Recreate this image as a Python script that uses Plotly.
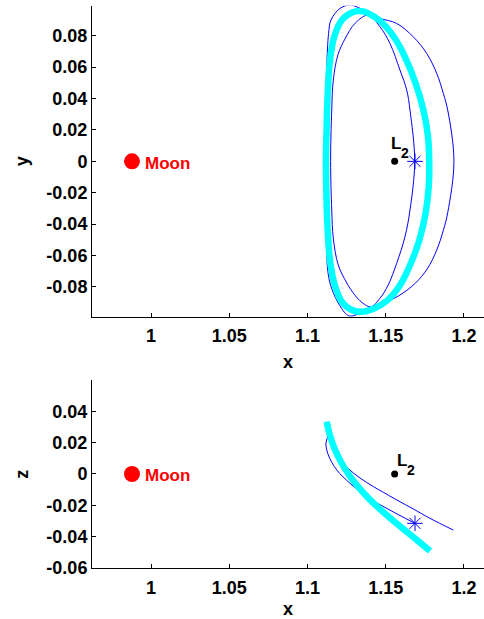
import plotly.graph_objects as go

# ---- fixed bodies / points ----
moon_x = [0.98785]
moon_y = [0.0]
moon_z = [0.0]
l2_x = [1.1557]
l2_y = [0.0]
l2_z = [0.0]
start_x = [1.1687]
start_y = [0.0]
start_z = [-0.0316]

# ---- converged halo orbit (cyan), x-y projection ----
halo_xy_x = [1.1118, 1.1122, 1.1128, 1.1142, 1.1170, 1.1220, 1.1285, 1.1355, 1.1420,
             1.1490, 1.1560, 1.1630, 1.1690, 1.1740, 1.1770, 1.1778,
             1.1775, 1.1755, 1.1715, 1.1660, 1.1590, 1.1510, 1.1430, 1.1345, 1.1280,
             1.1220, 1.1175, 1.1145, 1.1127, 1.1121, 1.1118]
halo_xy_y = [0.0, 0.0200, 0.0400, 0.0630, 0.0790, 0.0900, 0.0948, 0.0955, 0.0925,
             0.0870, 0.0780, 0.0650, 0.0500, 0.0330, 0.0160, 0.0,
             -0.0160, -0.0330, -0.0500, -0.0650, -0.0790, -0.0885, -0.0935, -0.0957, -0.0945,
             -0.0895, -0.0790, -0.0640, -0.0400, -0.0200, 0.0]

# ---- converged halo orbit (cyan), x-z projection ----
halo_xz_x = [1.1123, 1.1140, 1.1170, 1.1215, 1.1272, 1.1357, 1.1463, 1.1591, 1.1698, 1.1783]
halo_xz_z = [0.0335, 0.0260, 0.0170, 0.0075, -0.0015, -0.0120, -0.0225, -0.0335, -0.0422, -0.0493]

# ---- initial-guess trajectory (blue), x-y projection: outer and inner loops ----
traj_outer_x = [1.1112, 1.1116, 1.1123, 1.1135, 1.1150, 1.1208, 1.1272, 1.1335, 1.1389,
                1.1463, 1.1570, 1.1676, 1.1762, 1.1826, 1.1868, 1.1896, 1.1936,
                1.1896, 1.1868, 1.1826, 1.1765, 1.1690, 1.1591, 1.1484, 1.1400,
                1.1335, 1.1275, 1.1250, 1.1190, 1.1148, 1.1130, 1.1122, 1.1116, 1.1112]
traj_outer_y = [0.0, 0.0348, 0.0602, 0.0815, 0.0900, 0.0974, 0.0995, 0.0974, 0.0938,
                0.0910, 0.0878, 0.0793, 0.0687, 0.0560, 0.0433, 0.0327, 0.0,
                -0.0327, -0.0440, -0.0565, -0.0685, -0.0775, -0.0851, -0.0904, -0.0935,
                -0.0968, -0.0985, -0.0975, -0.0890, -0.0790, -0.0700, -0.0560, -0.0348, 0.0]
traj_inner_x = [1.1148, 1.1155, 1.1165, 1.1195, 1.1240, 1.1305, 1.1389, 1.1463, 1.1527,
                1.1591, 1.1634, 1.1655, 1.1685, 1.1655, 1.1623, 1.1570, 1.1516, 1.1463,
                1.1405, 1.1350, 1.1290, 1.1235, 1.1195, 1.1165, 1.1155, 1.1148]
traj_inner_y = [0.0, 0.0327, 0.0517, 0.0680, 0.0780, 0.0880, 0.0931, 0.0857, 0.0751,
                0.0581, 0.0454, 0.0327, 0.0, -0.0310, -0.0480, -0.0649, -0.0787, -0.0872,
                -0.0926, -0.0900, -0.0835, -0.0745, -0.0655, -0.0490, -0.0310, 0.0]

# ---- initial-guess trajectory (blue), x-z projection: two branches meeting at the tip ----
traj_xz_a_x = [1.1687, 1.1506, 1.1378, 1.1272, 1.1187, 1.1133, 1.1118, 1.1133]
traj_xz_a_z = [-0.0316, -0.0220, -0.0145, -0.0060, 0.0026, 0.0122, 0.0197, 0.0245]
traj_xz_b_x = [1.1133, 1.1160, 1.1200, 1.1260, 1.1335, 1.1420, 1.1484, 1.1570, 1.1680,
               1.1783, 1.1932]
traj_xz_b_z = [0.0245, 0.0170, 0.0100, 0.0035, -0.0025, -0.0080, -0.0117, -0.0166, -0.0226,
               -0.0284, -0.0359]

# ---- ticks ----
x_ticks = [1.0, 1.05, 1.1, 1.15, 1.2]
x_tick_text = ["1", "1.05", "1.1", "1.15", "1.2"]
y_ticks = [-0.08, -0.06, -0.04, -0.02, 0.0, 0.02, 0.04, 0.06, 0.08]
y_tick_text = ["-0.08", "-0.06", "-0.04", "-0.02", "0", "0.02", "0.04", "0.06", "0.08"]
z_ticks = [-0.06, -0.04, -0.02, 0.0, 0.02, 0.04]
z_tick_text = ["-0.06", "-0.04", "-0.02", "0", "0.02", "0.04"]

BLUE = "#0000ff"
CYAN = "#00ffff"
RED = "#ff0000"
FONT = "Liberation Sans, Arial, sans-serif"

fig = go.Figure()

thin = dict(color=BLUE, width=1, shape="spline", smoothing=1.0)
thick = dict(color=CYAN, width=6.5, shape="spline", smoothing=1.0)

# top panel (x-y)
fig.add_trace(go.Scatter(x=traj_outer_x, y=traj_outer_y, mode="lines", line=thin,
                         xaxis="x", yaxis="y"))
fig.add_trace(go.Scatter(x=traj_inner_x, y=traj_inner_y, mode="lines", line=thin,
                         xaxis="x", yaxis="y"))
fig.add_trace(go.Scatter(x=halo_xy_x, y=halo_xy_y, mode="lines", line=thick,
                         xaxis="x", yaxis="y"))
fig.add_trace(go.Scatter(x=moon_x, y=moon_y, mode="markers",
                         marker=dict(color=RED, size=16), xaxis="x", yaxis="y"))
fig.add_trace(go.Scatter(x=l2_x, y=l2_y, mode="markers",
                         marker=dict(color="black", size=7), xaxis="x", yaxis="y"))
fig.add_trace(go.Scatter(x=start_x, y=start_y, mode="markers",
                         marker=dict(symbol="asterisk-open", color=BLUE, size=13,
                                     line=dict(color=BLUE, width=1)),
                         xaxis="x", yaxis="y"))

# bottom panel (x-z)
fig.add_trace(go.Scatter(x=traj_xz_a_x, y=traj_xz_a_z, mode="lines", line=thin,
                         xaxis="x2", yaxis="y2"))
fig.add_trace(go.Scatter(x=traj_xz_b_x, y=traj_xz_b_z, mode="lines", line=thin,
                         xaxis="x2", yaxis="y2"))
fig.add_trace(go.Scatter(x=halo_xz_x, y=halo_xz_z, mode="lines", line=thick,
                         xaxis="x2", yaxis="y2"))
fig.add_trace(go.Scatter(x=moon_x, y=moon_z, mode="markers",
                         marker=dict(color=RED, size=16), xaxis="x2", yaxis="y2"))
fig.add_trace(go.Scatter(x=l2_x, y=l2_z, mode="markers",
                         marker=dict(color="black", size=7), xaxis="x2", yaxis="y2"))
fig.add_trace(go.Scatter(x=start_x, y=start_z, mode="markers",
                         marker=dict(symbol="asterisk-open", color=BLUE, size=13,
                                     line=dict(color=BLUE, width=1)),
                         xaxis="x2", yaxis="y2"))

tickfont = dict(family=FONT, size=18, color="black", weight="bold")
common = dict(showline=True, linecolor="black", linewidth=1, ticks="inside", ticklen=4,
              tickcolor="black", tickwidth=1, showgrid=False, zeroline=False,
              tickfont=tickfont, automargin=False, fixedrange=True)

fig.update_layout(
    width=484, height=619,
    margin=dict(l=92, r=0, t=0, b=0),
    paper_bgcolor="white", plot_bgcolor="white",
    showlegend=False,
    xaxis=dict(domain=[0, 1], anchor="y", range=[0.9623, 1.2128],
               tickvals=x_ticks, ticktext=x_tick_text, ticklabelstandoff=3,
               title=dict(text="x", font=tickfont, standoff=10), **common),
    yaxis=dict(domain=[0.4884, 0.9908], anchor="x", range=[-0.0989, 0.0991],
               tickvals=y_ticks, ticktext=y_tick_text,
               title=dict(text="y", font=tickfont, standoff=13), **common),
    xaxis2=dict(domain=[0, 1], anchor="y2", range=[0.9623, 1.2128],
                tickvals=x_ticks, ticktext=x_tick_text, ticklabelstandoff=3,
                title=dict(text="x", font=tickfont, standoff=10), **common),
    yaxis2=dict(domain=[0.0819, 0.3861], anchor="x2", range=[-0.0604, 0.0602],
                tickvals=z_ticks, ticktext=z_tick_text,
                title=dict(text="z", font=tickfont, standoff=13), **common),
)

labelfont_red = dict(family=FONT, size=17, color=RED, weight="bold")
labelfont_L = dict(family=FONT, size=17, color="black", weight="bold")
labelfont_sub = dict(family=FONT, size=14, color="black", weight="bold")
# (xref, yref, L shift x, L shift y, subscript shift x, subscript shift y)
l2_label_pos = (("x", "y", -6, 18, 4, 8), ("x2", "y2", 0, 13, 10, 4))
for xr, yr, lx, ly, sx, sy in l2_label_pos:
    fig.add_annotation(x=moon_x[0], y=0, xref=xr, yref=yr, text="Moon", showarrow=False,
                       xanchor="left", yanchor="middle", xshift=11, yshift=-2,
                       font=labelfont_red)
    fig.add_annotation(x=l2_x[0], y=0, xref=xr, yref=yr, text="L", showarrow=False,
                       xanchor="left", yanchor="middle", xshift=lx, yshift=ly,
                       font=labelfont_L)
    fig.add_annotation(x=l2_x[0], y=0, xref=xr, yref=yr, text="2", showarrow=False,
                       xanchor="left", yanchor="middle", xshift=sx, yshift=sy,
                       font=labelfont_sub)

fig.write_html("out.html")
